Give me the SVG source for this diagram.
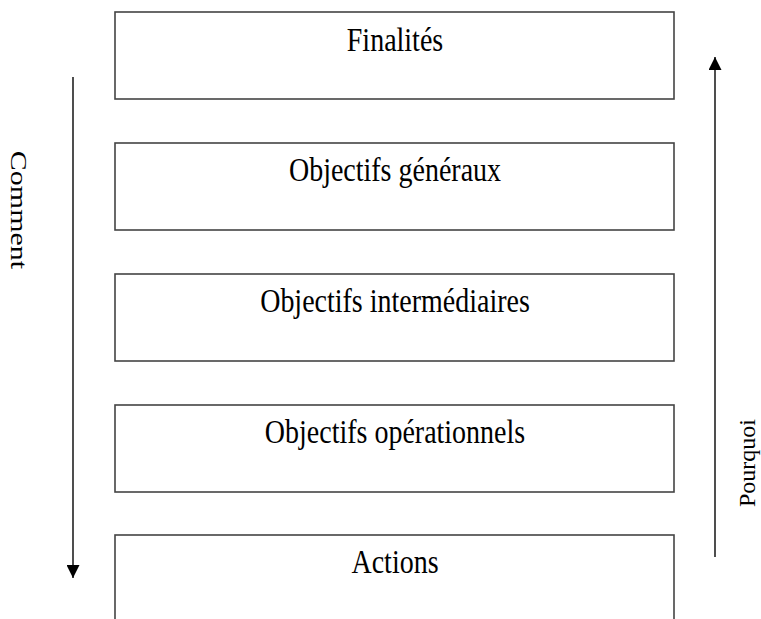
<svg xmlns="http://www.w3.org/2000/svg" width="761" height="619" viewBox="0 0 761 619">
<style>
.box{fill:#fff;stroke:#444;stroke-width:1.6}
.lbl{font-family:"Liberation Serif","Times New Roman",serif;font-size:28px;fill:#000;text-anchor:middle}
.side{font-family:"Liberation Serif","Times New Roman",serif;font-size:24px;fill:#000;text-anchor:middle}
.conn{stroke:#222;stroke-width:1.6;fill:none}
</style>
<defs>
<marker id="ah" viewBox="0 0 10 10" refX="10" refY="5" markerWidth="14" markerHeight="13" markerUnits="userSpaceOnUse" orient="auto">
<path d="M0,0 L10,5 L0,10 z" fill="#000"/>
</marker>
</defs>
<rect width="761" height="619" fill="#fff"/>
<g id="finalites"><rect class="box" x="115" y="12" width="559" height="87"/><text class="lbl" transform="translate(395 51) scale(1 1.18)">Finalités</text></g>
<g id="objectifs-generaux"><rect class="box" x="115" y="143" width="559" height="87"/><text class="lbl" transform="translate(395 181) scale(1 1.18)">Objectifs généraux</text></g>
<g id="objectifs-intermediaires"><rect class="box" x="115" y="274" width="559" height="87"/><text class="lbl" transform="translate(395 312) scale(1 1.18)">Objectifs intermédiaires</text></g>
<g id="objectifs-operationnels"><rect class="box" x="115" y="405" width="559" height="87"/><text class="lbl" transform="translate(395 443) scale(1 1.18)">Objectifs opérationnels</text></g>
<g id="actions"><rect class="box" x="115" y="535" width="559" height="100"/><text class="lbl" transform="translate(395 573) scale(1 1.18)">Actions</text></g>
<g id="connectors">
<line class="conn" x1="73" y1="77" x2="73" y2="578" marker-end="url(#ah)"/>
<line class="conn" x1="715" y1="557" x2="715" y2="57" marker-end="url(#ah)"/>
</g>
<g id="comment"><text class="side" transform="translate(11 210) rotate(90) scale(1.25 1)">Comment</text></g>
<g id="pourquoi"><text class="side" transform="translate(755 463) rotate(-90)">Pourquoi</text></g>
</svg>
